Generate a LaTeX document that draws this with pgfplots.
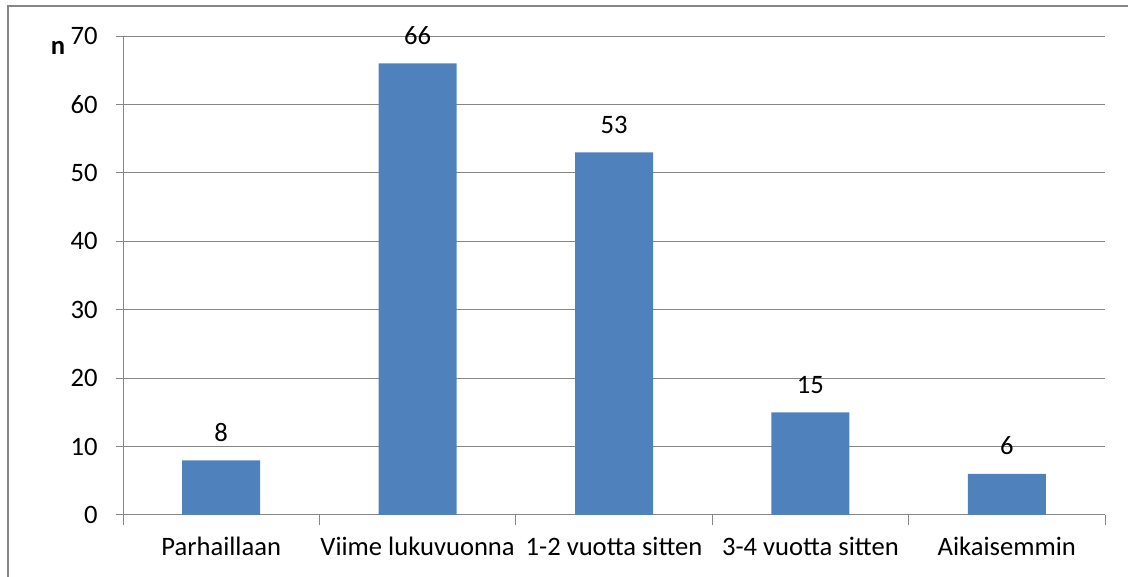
\documentclass[border=0pt]{standalone}
\usepackage{fontspec}
\setmainfont{Carlito}
\usepackage{pgfplots}
\pgfplotsset{compat=1.18}
\definecolor{barblue}{HTML}{4F81BD}
\definecolor{gridgray}{HTML}{868686}
\newcommand\chartfont{\fontsize{13.3bp}{16bp}\selectfont}
\begin{document}
\begin{tikzpicture}
\chartfont
\useasboundingbox (0,0) rectangle (564bp,288.5bp);
% chart frame (only left and top edges fall inside the picture)
\draw[gridgray, line width=1bp] (4bp,0) -- (4bp,285.5bp) -- (564bp,285.5bp);
\node[anchor=base, inner sep=0pt] at (29bp,261bp) {\bfseries n};
\begin{axis}[
  at={(61.5bp,31bp)}, anchor=south west,
  scale only axis, width=491bp, height=239.5bp,
  xmin=-0.5, xmax=4.5, ymin=0, ymax=70,
  ybar, bar width=39bp, bar shift=0pt,
  axis x line*=bottom, axis y line*=left,
  axis line style={-, gridgray, line width=0.5bp},
  xtick={0,1,2,3,4},
  xticklabels={Parhaillaan, Viime lukuvuonna, 1-2 vuotta sitten, 3-4 vuotta sitten, Aikaisemmin},
  major x tick style={draw=none},
  minor xtick={-0.5,0.5,1.5,2.5,3.5,4.5},
  minor tick length=5bp, major tick length=3.5bp,
  tick align=outside,
  tick style={gridgray, line width=0.5bp},
  ytick={0,10,...,70},
  ymajorgrids, grid style={gridgray, line width=0.5bp},
  /pgf/number format/assume math mode=true,
  tick label style={font=\chartfont, inner sep=0pt},
  yticklabel style={anchor=east, xshift=-9bp},
  xticklabel style={anchor=base, yshift=-17bp},
  nodes near coords,
  every node near coord/.append style={font=\chartfont, anchor=base, inner sep=0pt, yshift=9.5bp, text=black},
]
\addplot[fill=barblue, draw=none] coordinates {(0,8) (1,66) (2,53) (3,15) (4,6)};
\end{axis}
\end{tikzpicture}
\end{document}
